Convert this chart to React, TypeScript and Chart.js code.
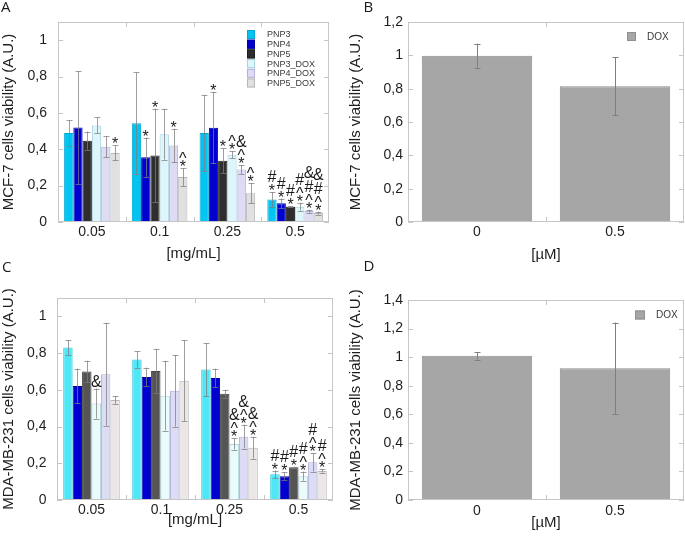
import React, { useEffect, useRef } from 'react';
import { Chart, registerables } from 'chart.js';
Chart.register(...registerables);

const SANS = "'Liberation Sans', Arial, Helvetica, sans-serif";

// ---------- categories / labels ----------
const concCategories = ['0.05', '0.1', '0.25', '0.5'];
const doxCategories = ['0', '0.5'];
const seriesLabels = ['PNP3', 'PNP4', 'PNP5', 'PNP3_DOX', 'PNP4_DOX', 'PNP5_DOX'];

// ---------- Panel A : MCF-7 ----------
const mcfPNP3 = [0.49, 0.543, 0.489, 0.124];
const mcfPNP4 = [0.52, 0.356, 0.519, 0.103];
const mcfPNP5 = [0.447, 0.366, 0.337, 0.084];
const mcfPNP3DOX = [0.531, 0.483, 0.37, 0.084];
const mcfPNP4DOX = [0.414, 0.421, 0.289, 0.06];
const mcfPNP5DOX = [0.38, 0.247, 0.158, 0.049];

const mcfPNP3Err = [0.07, 0.28, 0.21, 0.04];
const mcfPNP4Err = [0.31, 0.108, 0.197, 0.026];
const mcfPNP5Err = [0.05, 0.258, 0.068, 0.004];
const mcfPNP3DOXErr = [0.044, 0.14, 0.019, 0.022];
const mcfPNP4DOXErr = [0.059, 0.092, 0.024, 0.008];
const mcfPNP5DOXErr = [0.041, 0.049, 0.055, 0.008];

const mcfPNP3Marks = ['', '', '', '*#'];
const mcfPNP4Marks = ['', '*', '*', '*#'];
const mcfPNP5Marks = ['', '*', '*', '*#'];
const mcfPNP3DOXMarks = ['', '', '*^', '*^#'];
const mcfPNP4DOXMarks = ['', '*', '*^&', '*^#&'];
const mcfPNP5DOXMarks = ['*', '*^', '*^', '*^#&'];

// ---------- Panel C : MDA-MB-231 ----------
const mdaPNP3 = [0.831, 0.765, 0.71, 0.14];
const mdaPNP4 = [0.621, 0.67, 0.665, 0.13];
const mdaPNP5 = [0.7, 0.703, 0.578, 0.178];
const mdaPNP3DOX = [0.525, 0.568, 0.305, 0.13];
const mdaPNP4DOX = [0.685, 0.595, 0.345, 0.205];
const mdaPNP5DOX = [0.545, 0.65, 0.285, 0.158];

const mdaPNP3Err = [0.04, 0.044, 0.145, 0.02];
const mdaPNP4Err = [0.095, 0.051, 0.05, 0.02];
const mdaPNP5Err = [0.058, 0.12, 0.022, 0.004];
const mdaPNP3DOXErr = [0.082, 0.19, 0.03, 0.025];
const mdaPNP4DOXErr = [0.28, 0.195, 0.065, 0.05];
const mdaPNP5DOXErr = [0.021, 0.22, 0.06, 0.01];

const mdaPNP3Marks = ['', '', '', '*#'];
const mdaPNP4Marks = ['', '', '', '*#'];
const mdaPNP5Marks = ['', '', '', '*#'];
const mdaPNP3DOXMarks = ['&', '', '*^&', '*^#'];
const mdaPNP4DOXMarks = ['', '', '*^&', '*^#'];
const mdaPNP5DOXMarks = ['', '', '*^&', '*^#'];

// ---------- Panels B / D : DOX ----------
const mcfDOX = [0.998, 0.815];
const mcfDOXErr = [0.072, 0.174];
const mdaDOX = [1.009, 0.922];
const mdaDOXErr = [0.027, 0.32];

// ---------- styles ----------
const colorsA = ['#00c4f2', '#0000cf', '#2e2e2e', '#def6fb', '#dedcf4', '#e0e0e0'];
const bordersA = ['#00a6d6', '#0000a6', '#1e1e1e', '#a8d4de', '#b2b0d8', '#b6b6b6'];
const colorsC = ['#4fe7f6', '#0000cf', '#555555', '#e9fbfb', '#dcdcf5', '#ebe7e7'];
const bordersC = ['#33c6da', '#0000a6', '#444444', '#b0d8dc', '#b2b0d8', '#bcb6b6'];

const fmtComma = (v: number) => {
  const n = Number(Number(v).toFixed(1));
  return n === 0 ? '0' : String(n).replace('.', ',');
};

const decoPlugin = {
  id: 'deco',
  afterDatasetsDraw(chart: any, _args: any, opts: any) {
    const { ctx, chartArea: ca, scales } = chart;
    const x = scales.x;
    const y = scales.y;
    ctx.save();
    // error bars
    chart.data.datasets.forEach((ds: any, di: number) => {
      const meta = chart.getDatasetMeta(di);
      meta.data.forEach((el: any, i: number) => {
        const v = ds.data[i];
        const e = ds.errors ? ds.errors[i] : 0;
        if (!e) return;
        const px = Math.round(el.x) + 0.5;
        const yt = y.getPixelForValue(v + e);
        const yb = y.getPixelForValue(Math.max(0, v - e));
        ctx.strokeStyle = opts.errColor;
        ctx.lineWidth = 1;
        ctx.beginPath();
        ctx.moveTo(px, yt); ctx.lineTo(px, yb);
        ctx.moveTo(px - opts.cap, Math.round(yt) + 0.5); ctx.lineTo(px + opts.cap, Math.round(yt) + 0.5);
        ctx.moveTo(px - opts.cap, Math.round(yb) + 0.5); ctx.lineTo(px + opts.cap, Math.round(yb) + 0.5);
        ctx.stroke();
      });
    });
    // significance marks
    ctx.font = `16px ${SANS}`;
    ctx.fillStyle = '#1c1c1c';
    ctx.textAlign = 'center';
    ctx.textBaseline = 'alphabetic';
    chart.data.datasets.forEach((ds: any, di: number) => {
      if (!ds.marks) return;
      const meta = chart.getDatasetMeta(di);
      meta.data.forEach((el: any, i: number) => {
        const s = ds.marks[i];
        if (!s) return;
        let bottom = y.getPixelForValue(ds.data[i] + (ds.errors ? ds.errors[i] : 0)) - 2;
        for (const ch of s) {
          const m = ctx.measureText(ch);
          const base = bottom - m.actualBoundingBoxDescent;
          ctx.fillText(ch, el.x, base);
          bottom = base - m.actualBoundingBoxAscent - 2;
        }
      });
    });
    // frame
    ctx.strokeStyle = '#c6c6c6';
    ctx.lineWidth = 1;
    ctx.strokeRect(Math.round(ca.left) + 0.5, Math.round(ca.top) + 0.5, Math.round(ca.right - ca.left) - 1, Math.round(ca.bottom - ca.top) - 1);
    ctx.beginPath();
    y.ticks.forEach((t: any) => {
      const py = Math.round(y.getPixelForValue(t.value)) + 0.5;
      ctx.moveTo(ca.left, py); ctx.lineTo(ca.left + 5, py);
      ctx.moveTo(ca.right - 5, py); ctx.lineTo(ca.right, py);
    });
    for (let i = 1; i < x.ticks.length; i++) {
      const px = Math.round((x.getPixelForTick(i - 1) + x.getPixelForTick(i)) / 2) + 0.5;
      ctx.moveTo(px, ca.bottom); ctx.lineTo(px, ca.bottom - 5);
      ctx.moveTo(px, ca.top); ctx.lineTo(px, ca.top + 5);
    }
    ctx.stroke();
    // legend
    const lg = opts.legend;
    if (lg) {
      ctx.font = `${lg.font}px ${SANS}`;
      ctx.textAlign = 'left';
      ctx.textBaseline = 'middle';
      chart.data.datasets.forEach((ds: any, di: number) => {
        const bx = ca.right - lg.dx;
        const cy = ca.top + lg.dy + di * lg.row;
        ctx.fillStyle = ds.backgroundColor;
        ctx.fillRect(bx, cy - lg.bh / 2, lg.bw, lg.bh);
        ctx.strokeStyle = ds.borderColor;
        ctx.strokeRect(bx + 0.5, cy - lg.bh / 2 + 0.5, lg.bw - 1, lg.bh - 1);
        ctx.fillStyle = '#3a3a3a';
        ctx.fillText(ds.label, bx + lg.tx, cy + 0.5);
      });
    }
    ctx.restore();
  },
};

function makeConfig(p: any) {
  return {
    type: 'bar',
    data: { labels: p.labels, datasets: p.datasets },
    plugins: [decoPlugin],
    options: {
      responsive: false,
      animation: false,
      events: [],
      layout: { padding: { left: 0, right: p.padRight, top: p.padTop, bottom: 0 } },
      plugins: {
        legend: { display: false },
        tooltip: { enabled: false },
        deco: { errColor: p.errColor, cap: p.cap, legend: p.legend },
      },
      scales: {
        x: {
          grid: { display: false, drawTicks: false },
          border: { display: false },
          ticks: { font: { family: SANS, size: 14 }, color: '#1e1e1e', padding: p.xTickPad },
          title: { display: true, text: p.xTitle, font: { family: SANS, size: 15 }, color: '#1e1e1e', padding: { top: 0, bottom: p.xTitlePad } },
          afterFit: (s: any) => { s.height = p.xHeight; },
        },
        y: {
          min: 0,
          max: p.yMax,
          grid: { display: false, drawTicks: false },
          border: { display: false },
          ticks: { stepSize: 0.2, includeBounds: false, font: { family: SANS, size: 14 }, color: '#1e1e1e', padding: p.yTickPad, callback: (v: any) => fmtComma(v) },
          title: { display: true, text: p.yTitle, font: { family: SANS, size: 15 }, color: '#1e1e1e', padding: { top: p.yTitlePad, bottom: 0 } },
          afterFit: (s: any) => { s.width = p.yWidth; },
        },
      },
    },
  };
}

function groupDatasets(values: number[][], errs: number[][], marks: string[][], fills: string[], borders: string[]) {
  return seriesLabels.map((label, i) => ({
    label,
    data: values[i],
    errors: errs[i],
    marks: marks[i],
    backgroundColor: fills[i],
    borderColor: borders[i],
    borderWidth: 1,
    barPercentage: 1,
    categoryPercentage: 0.82,
  }));
}

function doxDataset(values: number[], errs: number[]) {
  return [{
    label: 'DOX',
    data: values,
    errors: errs,
    backgroundColor: '#a6a6a6',
    borderColor: '#8f8f8f',
    borderWidth: 1,
    barPercentage: 1,
    categoryPercentage: 0.8,
  }];
}

function Panel({ left, top, width, height, config }: any) {
  const ref = useRef<HTMLCanvasElement>(null);
  useEffect(() => {
    const chart = new Chart(ref.current as HTMLCanvasElement, config() as any);
    return () => chart.destroy();
  }, []);
  return (
    <div style={{ position: 'absolute', left, top, width, height }}>
      <canvas ref={ref} width={width} height={height} style={{ width, height, display: 'block' }} />
    </div>
  );
}

const letterStyle = (left: number, top: number): React.CSSProperties => ({
  position: 'absolute', left, top, fontFamily: "'Open Sans', sans-serif", fontSize: 15, lineHeight: '15px', color: '#1a1a1a',
});

export default function App() {
  const cfgA = () => makeConfig({
    labels: concCategories,
    datasets: groupDatasets(
      [mcfPNP3, mcfPNP4, mcfPNP5, mcfPNP3DOX, mcfPNP4DOX, mcfPNP5DOX],
      [mcfPNP3Err, mcfPNP4Err, mcfPNP5Err, mcfPNP3DOXErr, mcfPNP4DOXErr, mcfPNP5DOXErr],
      [mcfPNP3Marks, mcfPNP4Marks, mcfPNP5Marks, mcfPNP3DOXMarks, mcfPNP4DOXMarks, mcfPNP5DOXMarks],
      colorsA, bordersA),
    padRight: 13, padTop: 22, xHeight: 43, yWidth: 58, yMax: 1.1,
    xTickPad: 2, yTickPad: 11, xTitlePad: 2, yTitlePad: 0,
    xTitle: '[mg/mL]', yTitle: 'MCF-7 cells viability (A.U.)',
    errColor: 'rgba(125,125,125,0.75)', cap: 3,
    legend: { dx: 82, dy: 12.5, row: 9.7, bw: 8, bh: 9, tx: 20, font: 9 },
  });
  const cfgC = () => makeConfig({
    labels: concCategories,
    datasets: groupDatasets(
      [mdaPNP3, mdaPNP4, mdaPNP5, mdaPNP3DOX, mdaPNP4DOX, mdaPNP5DOX],
      [mdaPNP3Err, mdaPNP4Err, mdaPNP5Err, mdaPNP3DOXErr, mdaPNP4DOXErr, mdaPNP5DOXErr],
      [mdaPNP3Marks, mdaPNP4Marks, mdaPNP5Marks, mdaPNP3DOXMarks, mdaPNP4DOXMarks, mdaPNP5DOXMarks],
      colorsC, bordersC),
    padRight: 9, padTop: 33, xHeight: 37, yWidth: 57, yMax: 1.1,
    xTickPad: 1.5, yTickPad: 10.5, xTitlePad: 8, yTitlePad: 0,
    xTitle: '[mg/mL]', yTitle: 'MDA-MB-231 cells viability (A.U.)',
    errColor: 'rgba(125,125,125,0.75)', cap: 3,
    legend: null,
  });
  const cfgB = () => makeConfig({
    labels: doxCategories,
    datasets: doxDataset(mcfDOX, mcfDOXErr),
    padRight: 1, padTop: 22, xHeight: 43, yWidth: 66, yMax: 1.2,
    xTickPad: 2, yTickPad: 5, xTitlePad: 1.5, yTitlePad: 4.5,
    xTitle: '[µM]', yTitle: 'MCF-7 cells viability (A.U.)',
    errColor: '#7f7f7f', cap: 3,
    legend: { dx: 57, dy: 14.5, row: 10, bw: 9, bh: 9, tx: 20, font: 10 },
  });
  const cfgD = () => makeConfig({
    labels: doxCategories,
    datasets: doxDataset(mdaDOX, mdaDOXErr),
    padRight: 1, padTop: 35, xHeight: 37, yWidth: 66, yMax: 1.4,
    xTickPad: 3, yTickPad: 5, xTitlePad: 5, yTitlePad: 4.5,
    xTitle: '[µM]', yTitle: 'MDA-MB-231 cells viability (A.U.)',
    errColor: '#7f7f7f', cap: 3,
    legend: { dx: 49, dy: 15, row: 10, bw: 10, bh: 9, tx: 21, font: 10 },
  });

  return (
    <div style={{ position: 'absolute', left: 0, top: 0, width: 685, height: 537, background: '#fff', overflow: 'hidden' }}>
      <Panel left={0} top={0} width={342} height={265} config={cfgA} />
      <Panel left={342} top={0} width={343} height={265} config={cfgB} />
      <Panel left={0} top={265} width={342} height={272} config={cfgC} />
      <Panel left={342} top={265} width={343} height={272} config={cfgD} />
      <div style={letterStyle(1, -1.5)}>A</div>
      <div style={letterStyle(363.5, -1.3)}>B</div>
      <div style={letterStyle(2, 258.7)}>C</div>
      <div style={letterStyle(363.5, 257.7)}>D</div>
    </div>
  );
}
